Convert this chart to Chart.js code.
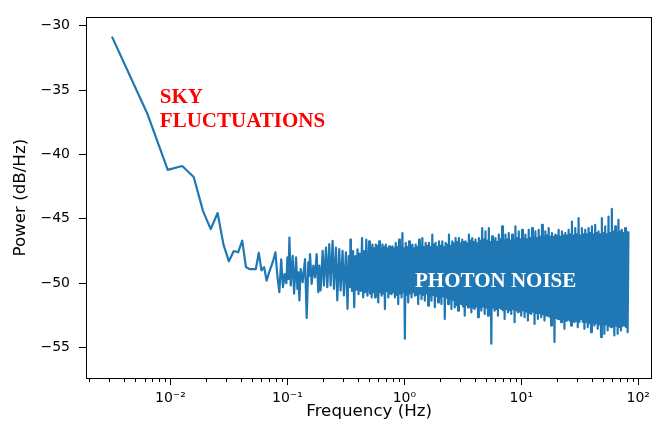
<!DOCTYPE html>
<html>
<head>
<meta charset="utf-8">
<script src="https://cdn.jsdelivr.net/npm/chart.js@4.4.1/dist/chart.umd.min.js"></script>
<style>
  html, body { margin: 0; padding: 0; background: #fff; }
  canvas { display: block; }
</style>
</head>
<body>
<canvas id="psdChart" width="655" height="430"></canvas>
<script>
// Low-frequency end of the spectrum (sky fluctuations), Hz / dB/Hz
const lowFreq = [
  0.00316, 0.00632, 0.00948, 0.0126, 0.0158, 0.019, 0.0221, 0.0253, 0.0284, 0.0316,
  0.0348, 0.0379, 0.0411, 0.0442, 0.0474, 0.0506, 0.0537, 0.0569, 0.06, 0.0632,
  0.0664, 0.0695, 0.0727, 0.0758, 0.079, 0.0822, 0.0853, 0.0885, 0.0916, 0.0948,
  0.098
];
const lowPower = [
  -30.85, -36.8, -41.2, -40.9, -41.75, -44.4, -45.8, -44.55, -47.0, -48.3,
  -47.5, -47.6, -46.7, -48.75, -48.9, -48.9, -48.9, -47.65, -49.0, -48.75,
  -49.8, -49.2, -48.7, -48.2, -47.6, -49.5, -50.7, -48.15, -50.3, -49.3,
  -50.0
];

// Noise floor between 0.1 and 0.5 Hz
const midFreq = [
  0.1, 0.102, 0.104, 0.1068, 0.111, 0.114, 0.1186, 0.1217, 0.1241, 0.1266,
  0.1299, 0.1351, 0.1415, 0.1462, 0.151, 0.154, 0.1561, 0.1612, 0.1666, 0.1722,
  0.1778, 0.1838, 0.1874, 0.1923, 0.2001, 0.2054, 0.2136, 0.2193, 0.228, 0.2341,
  0.2435, 0.25, 0.26, 0.2669, 0.2775, 0.2849, 0.2963, 0.3042, 0.3163,
  0.3266, 0.3344, 0.3424, 0.3458, 0.3492, 0.3526, 0.3561, 0.3642, 0.3726, 0.3811,
  0.3898, 0.3976, 0.4055, 0.4151, 0.4249, 0.4346, 0.4445, 0.4533, 0.4622, 0.4728,
  0.4836
];
const midPower = [
  -48.0, -49.67, -46.46, -50.18, -47.87, -50.82, -48.0, -50.44, -49.15, -51.33,
  -48.9, -49.92, -48.13, -52.69, -48.38, -49.41, -47.74, -50.05, -48.64, -49.54,
  -47.74, -50.69, -48.64, -50.56, -47.49, -50.18, -47.23, -50.31, -46.97, -50.18,
  -46.72, -50.44, -47.23, -51.33, -47.36, -50.56, -47.49, -50.95, -47.61,
  -52.0, -47.9, -50.3, -46.62, -50.2, -47.8, -50.6, -47.51, -51.87, -47.9,
  -50.5, -47.38, -50.85, -47.7, -50.6, -46.49, -51.1, -47.5, -50.7, -46.62,
  -50.97
];

// Photon-noise band from 0.5 Hz up to the Nyquist end
const highFreq = [
  0.5, 0.5083, 0.517, 0.5255, 0.534, 0.5428, 0.552, 0.5611, 0.57, 0.5794,
  0.589, 0.5987, 0.609, 0.619, 0.629, 0.6394, 0.65, 0.6607, 0.671, 0.6821,
  0.694, 0.7055, 0.717, 0.7288, 0.741, 0.7532, 0.765, 0.7776, 0.791, 0.8041,
  0.817, 0.8305, 0.844, 0.8579, 0.872, 0.8864, 0.901, 0.9159, 0.931, 0.9464,
  0.962, 0.9779, 0.994, 1.0104, 1.027, 1.0439, 1.061, 1.0785, 1.097, 1.1151,
  1.133, 1.1517, 1.171, 1.1903, 1.21, 1.23, 1.25, 1.2706, 1.292, 1.3133,
  1.335, 1.357, 1.379, 1.4018, 1.425, 1.4485, 1.472, 1.4963, 1.521, 1.5461,
  1.572, 1.5979, 1.624, 1.6508, 1.678, 1.7057, 1.734, 1.7626, 1.792, 1.8216,
  1.851, 1.8815, 1.913, 1.9446, 1.977, 2.0096, 2.042, 2.0757, 2.11, 2.1448,
  2.181, 2.217, 2.253, 2.2902, 2.328, 2.3664, 2.406, 2.4457, 2.486, 2.527,
  2.568, 2.6104, 2.654, 2.6978, 2.742, 2.7872, 2.833, 2.8797, 2.927, 2.9753,
  3.025, 3.0749, 3.125, 3.1766, 3.229, 3.2823, 3.337, 3.3921, 3.448, 3.5049,
  3.562, 3.6208, 3.681, 3.7417, 3.803, 3.8658, 3.93, 3.9948, 4.061, 4.128,
  4.196, 4.2652, 4.335, 4.4065, 4.479, 4.5529, 4.628, 4.7044, 4.782, 4.8609,
  4.941, 5.0225, 5.106, 5.1902, 5.276, 5.3631, 5.451, 5.5409, 5.632, 5.7249,
  5.82, 5.916, 6.013, 6.1122, 6.213, 6.3155, 6.42, 6.5259, 6.634, 6.7435,
  6.854, 6.9671, 7.082, 7.1989, 7.318, 7.4387, 7.561, 7.6858, 7.813, 7.9419,
  8.073, 8.2062, 8.341, 8.4786, 8.619, 8.7612, 8.905, 9.0519, 9.202, 9.3538,
  9.508, 9.6649, 9.824, 9.9861, 10.15, 10.317, 10.49, 10.663, 10.84, 11.019,
  11.2, 11.385, 11.57, 11.761, 11.96, 12.157, 12.35, 12.554, 12.76, 12.971,
  13.19, 13.408, 13.63, 13.855, 14.08, 14.312, 14.55, 14.79, 15.03, 15.278,
  15.53, 15.786, 16.05, 16.315, 16.58, 16.854, 17.14, 17.423, 17.71, 18.002,
  18.29, 18.592, 18.9, 19.212, 19.53, 19.852, 20.18, 20.513, 20.85, 21.194,
  21.55, 21.906, 22.26, 22.627, 23.0, 23.38, 23.77, 24.162, 24.56, 24.965,
  25.38, 25.799, 26.22, 26.653, 27.1, 27.547, 28.0, 28.462, 28.93, 29.407,
  29.89, 30.383, 30.89, 31.4, 31.91, 32.437, 32.97, 33.514, 34.07, 34.632,
  35.21, 35.791, 36.38, 36.98, 37.59, 38.21, 38.84, 39.481, 40.13, 40.792,
  41.46, 42.144, 42.84, 43.547, 44.27, 45.0, 45.74, 46.495, 47.26, 48.04,
  48.84, 49.646, 50.46, 51.293, 52.14, 53.0, 53.87, 54.759, 55.67, 56.589,
  57.52, 58.469, 59.43, 60.411, 61.41, 62.423, 63.45, 64.497, 65.56, 66.642,
  67.75, 68.868, 70.0, 71.155, 72.33, 73.523, 74.74, 75.973, 77.22, 78.494,
  79.79, 81.107, 82.45
];
const highPower = [
  -46.74, -50.8, -47.2, -51.1, -47.0, -50.7, -47.3, -51.1, -47.0, -50.9,
  -47.1, -51.49, -46.74, -50.7, -47.3, -50.97, -47.0, -50.8, -47.2, -52.0,
  -47.0, -50.6, -47.3, -51.1, -47.13, -50.8, -47.2, -50.85, -47.13, -50.7,
  -47.3, -51.1, -46.87, -50.9, -47.2, -51.62, -46.62, -50.8, -47.1, -51.1,
  -46.1, -50.7, -47.3, -54.31, -46.87, -50.9, -47.2, -51.49, -46.74, -50.8,
  -47.1, -51.1, -47.0, -50.7, -47.3, -50.97, -47.0, -50.9, -47.2, -51.62,
  -46.62, -50.8, -47.1, -51.23, -46.49, -50.9, -47.2, -51.36, -46.87, -50.8,
  -47.1, -51.74, -46.87, -51.0, -47.2, -51.36, -46.23, -50.9, -47.0, -51.87,
  -46.87, -51.0, -47.2, -51.49, -46.74, -51.1, -47.1, -51.62, -46.74, -51.0,
  -47.2, -52.77, -46.87, -51.1, -47.0, -51.62, -46.23, -51.2, -47.1, -52.0,
  -46.74, -51.3, -46.9, -51.88, -46.49, -51.7, -46.8, -52.13, -46.49, -51.6,
  -46.9, -51.62, -46.62, -51.8, -46.8, -52.52, -46.75, -51.7, -46.9, -51.88,
  -46.23, -51.8, -46.7, -52.26, -46.49, -51.9, -46.8, -52.0, -46.62, -51.8,
  -46.9, -52.64, -46.49, -51.9, -46.7, -52.13, -45.72, -51.8, -46.6, -52.39,
  -45.98, -51.9, -46.7, -52.52, -45.72, -52.0, -46.8, -54.7, -46.36, -51.9,
  -46.7, -52.13, -46.49, -52.0, -46.8, -52.52, -46.23, -51.9, -46.6, -52.0,
  -45.59, -52.1, -46.7, -52.77, -46.23, -52.0, -46.6, -52.26, -46.11, -52.1,
  -46.7, -52.39, -46.23, -52.0, -46.6, -53.03, -45.59, -52.1, -46.5, -52.26,
  -45.98, -52.2, -46.6, -52.52, -45.85, -52.1, -46.5, -52.64, -46.23, -52.2,
  -46.6, -52.9, -45.85, -52.3, -46.5, -52.39, -45.72, -52.2, -46.4, -53.16,
  -45.98, -52.3, -46.5, -52.77, -45.85, -52.3, -46.4, -52.64, -45.46, -52.4,
  -46.4, -52.9, -45.98, -52.5, -46.3, -52.52, -45.72, -52.6, -46.4, -53.29,
  -46.11, -52.7, -46.4, -54.57, -46.23, -52.7, -46.3, -52.77, -45.85, -52.8,
  -46.4, -53.03, -45.98, -52.8, -46.3, -53.54, -46.11, -52.9, -46.3, -52.77,
  -45.85, -52.9, -46.2, -53.29, -45.21, -52.9, -46.3, -53.03, -45.72, -52.9,
  -46.2, -53.41, -44.95, -53.0, -46.3, -52.77, -45.72, -53.0, -46.2, -53.54,
  -45.85, -53.0, -46.2, -53.41, -45.72, -53.1, -46.1, -53.8, -45.59, -53.1,
  -46.2, -53.29, -45.46, -53.1, -46.1, -53.54, -45.98, -53.2, -46.2, -54.18,
  -44.95, -53.2, -46.1, -53.93, -45.59, -53.2, -46.2, -53.67, -44.82, -53.3,
  -46.1, -53.41, -44.23, -53.3, -46.0, -54.05, -45.59, -53.3, -46.1, -53.93,
  -45.08, -53.4, -46.0, -53.67, -45.85, -53.3, -46.1, -53.29, -45.72, -53.4,
  -46.0, -53.8, -45.98
];

// axis ticks
const xTicks = [0.01, 0.1, 1, 10, 100];
const xTickLabels = ['10\u207B\u00B2', '10\u207B\u00B9', '10\u2070', '10\u00B9', '10\u00B2'];
const yTicks = [-55, -50, -45, -40, -35, -30];

const freq = lowFreq.concat(midFreq, highFreq);
const power = lowPower.concat(midPower, highPower);
const spectrum = freq.map((f, i) => ({ x: f, y: power[i] }));

// text placed in data coordinates
const notes = [
  { text: 'SKY', x: 0.00811, y: -35.98, color: '#ff0000' },
  { text: 'FLUCTUATIONS', x: 0.00811, y: -37.9, color: '#ff0000' },
  { text: 'PHOTON NOISE', x: 1.234, y: -50.28, color: '#ffffff' }
];

Chart.defaults.font.family = '"DejaVu Sans", sans-serif';
Chart.defaults.color = '#000';

// box around the axes, minor log ticks and the text labels
const axesFrame = {
  id: 'axesFrame',
  afterDatasetsDraw(chart) {
    const { ctx, chartArea: a, scales: { x, y } } = chart;
    ctx.save();
    ctx.strokeStyle = '#000';
    ctx.lineWidth = 1;

    const lo = Math.floor(Math.log10(x.min));
    const hi = Math.ceil(Math.log10(x.max));
    for (let e = lo; e <= hi; e++) {
      for (let m = 2; m <= 9; m++) {
        const v = m * Math.pow(10, e);
        if (v < x.min || v > x.max) continue;
        const px = Math.round(x.getPixelForValue(v)) + 0.5;
        ctx.beginPath();
        ctx.moveTo(px, a.bottom);
        ctx.lineTo(px, a.bottom + 4);
        ctx.stroke();
      }
    }

    ctx.strokeRect(Math.round(a.left) + 0.5, Math.round(a.top) + 0.5,
      Math.round(a.right - a.left) - 1, Math.round(a.bottom - a.top));

    ctx.font = 'bold 21px "Liberation Serif", "Times New Roman", serif';
    ctx.textAlign = 'left';
    ctx.textBaseline = 'alphabetic';
    notes.forEach(n => {
      ctx.fillStyle = n.color;
      ctx.fillText(n.text, x.getPixelForValue(n.x), y.getPixelForValue(n.y));
    });
    ctx.restore();
  }
};

new Chart(document.getElementById('psdChart'), {
  type: 'line',
  data: {
    datasets: [{
      data: spectrum,
      borderColor: '#1f77b4',
      borderWidth: 2.2,
      borderJoinStyle: 'round',
      pointRadius: 0,
      tension: 0,
      fill: false
    }]
  },
  options: {
    responsive: false,
    animation: false,
    events: [],
    layout: { padding: { top: 14, right: 1, left: 0, bottom: 0 } },
    plugins: { legend: { display: false }, tooltip: { enabled: false } },
    scales: {
      x: {
        type: 'logarithmic',
        min: 0.001896,
        max: 131.9,
        bounds: 'data',
        afterBuildTicks: s => { s.ticks = xTicks.map(v => ({ value: v })); },
        afterFit: s => { s.height = 52; },
        border: { display: false },
        grid: { drawOnChartArea: false, drawTicks: true, tickLength: 7, tickWidth: 1, tickColor: '#000' },
        ticks: {
          autoSkip: false,
          maxRotation: 0,
          padding: 5,
          font: { size: 14 },
          callback: (v, i) => xTickLabels[i]
        },
        title: {
          display: true,
          text: 'Frequency (Hz)',
          font: { size: 16.7 },
          padding: { top: 0, bottom: 8 }
        }
      },
      y: {
        min: -57.36,
        max: -29.36,
        bounds: 'data',
        afterBuildTicks: s => { s.ticks = yTicks.map(v => ({ value: v })); },
        afterFit: s => { s.width = 86; },
        border: { display: false },
        grid: { drawOnChartArea: false, drawTicks: true, tickLength: 7, tickWidth: 1, tickColor: '#000' },
        ticks: {
          padding: 9,
          font: { size: 14 },
          callback: v => (v < 0 ? '\u2212' + Math.abs(v) : String(v))
        },
        title: {
          display: true,
          text: 'Power (dB/Hz)',
          font: { size: 16.7 },
          padding: { top: 11, bottom: 0 }
        }
      }
    }
  },
  plugins: [axesFrame]
});
</script>
</body>
</html>
